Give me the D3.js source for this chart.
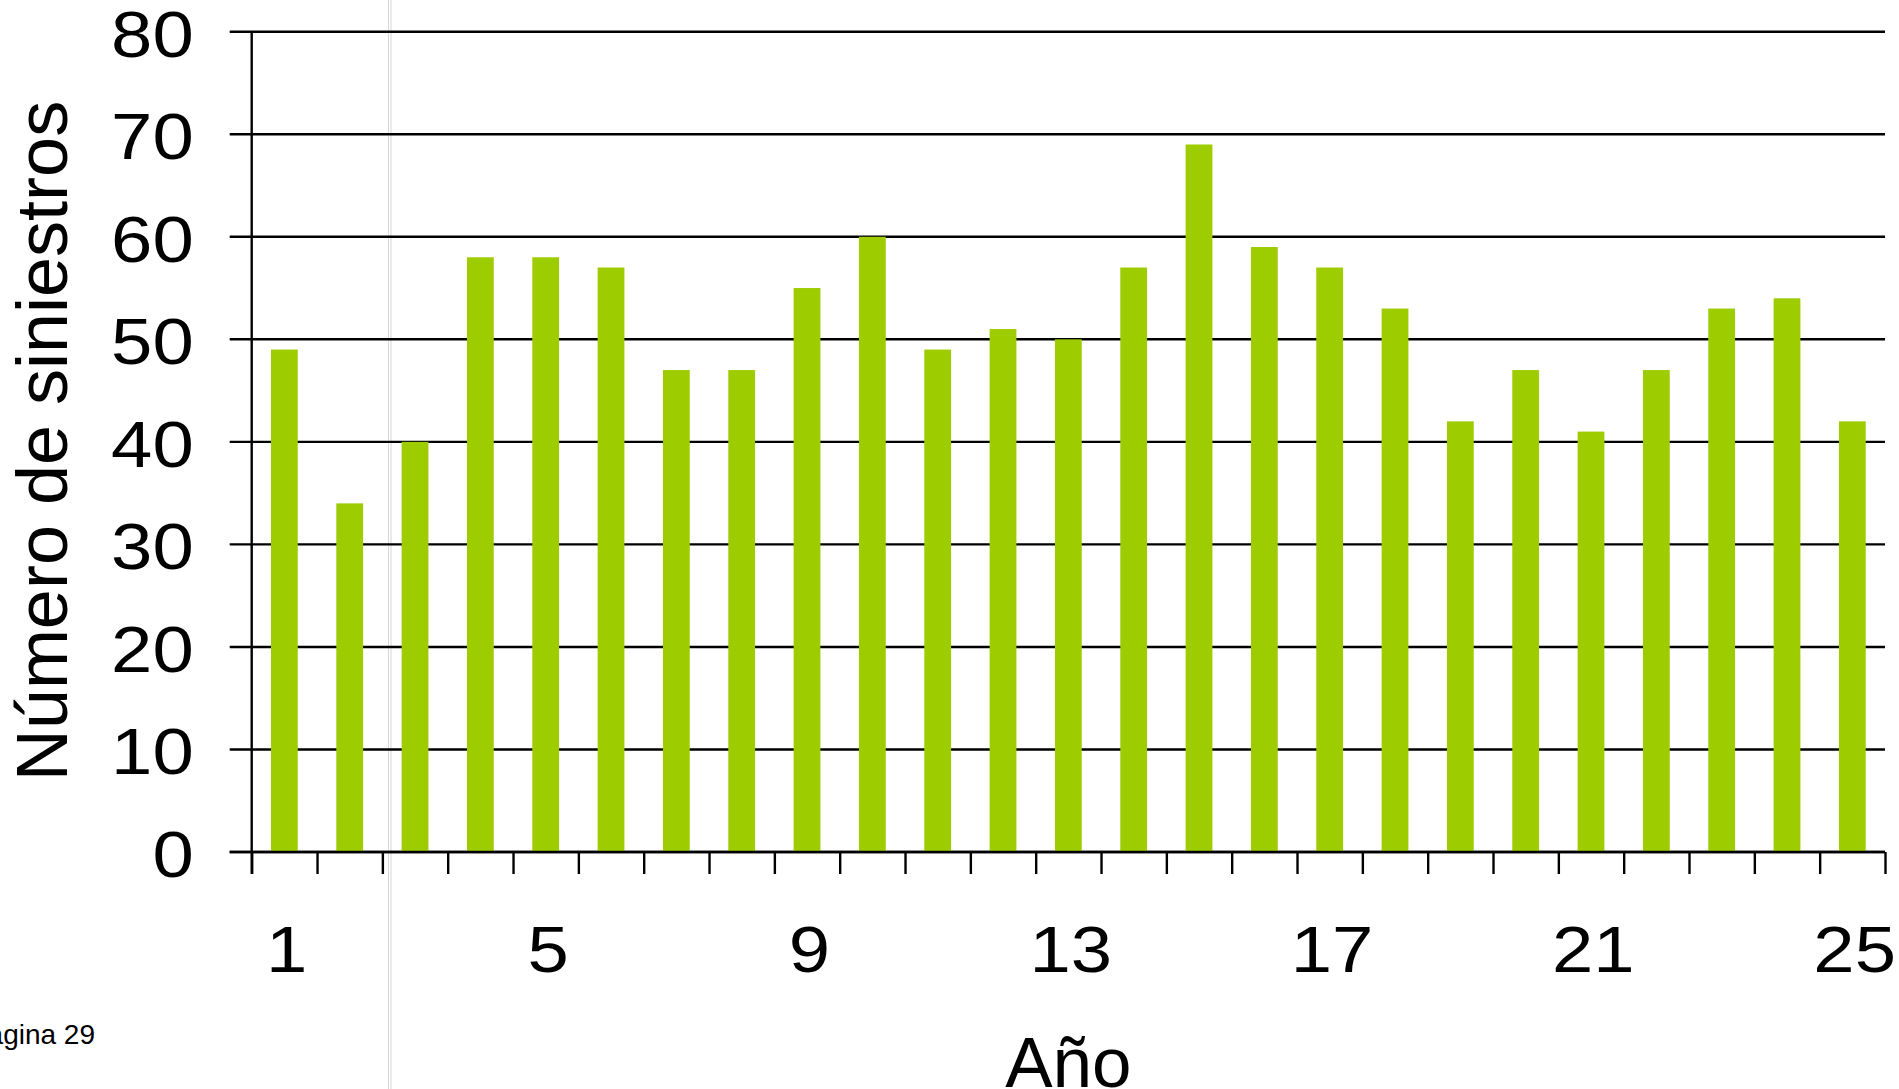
<!DOCTYPE html>
<html lang="es">
<head>
<meta charset="utf-8">
<title>Número de siniestros por año</title>
<script src="https://cdn.jsdelivr.net/npm/d3@7"></script>
<style>
  html, body { margin: 0; padding: 0; background: #fff; }
  svg { display: block; }
  text { font-family: "Liberation Sans", Arial, Helvetica, sans-serif; fill: #000; }
</style>
</head>
<body>
<svg id="chart" width="1899" height="1089"></svg>
<script>
// Siniestros registrados por año (años 1 a 25)
const years = [1, 2, 3, 4, 5, 6, 7, 8, 9, 10, 11, 12, 13, 14, 15, 16, 17, 18, 19, 20, 21, 22, 23, 24, 25];
const counts = [49, 34, 40, 58, 58, 57, 47, 47, 55, 60, 49, 51, 50, 57, 69, 59, 57, 53, 42, 47, 41, 47, 53, 54, 42];
const yTicks = [0, 10, 20, 30, 40, 50, 60, 70, 80];
const xTickLabels = [1, 5, 9, 13, 17, 21, 25];

const W = 1899, H = 1089;
const plot = { left: 251.7, right: 1885, top: 31.7, bottom: 852 };
const tickLen = 22;
const barColor = "#9dcc00";
const digitStretch = 1.16;

const svg = d3.select("#chart");

// page divider lines from the document layout
svg.append("g")
  .selectAll("line")
  .data([388.5, 391])
  .join("line")
  .attr("x1", d => d).attr("x2", d => d)
  .attr("y1", 0).attr("y2", H)
  .attr("stroke", "#d6d6d6").attr("stroke-width", 1);

const y = d3.scaleLinear().domain([0, 80]).range([plot.bottom, plot.top]);

const pi = 0.59;
const x = d3.scaleBand()
  .domain(years)
  .range([plot.left, plot.right])
  .paddingInner(pi)
  .paddingOuter(pi / 2);

// band boundaries for the tick marks
const xEdges = d3.scaleLinear().domain([0, years.length]).range([plot.left, plot.right]);

// horizontal gridlines (extend outward as the y ticks)
svg.append("g")
  .selectAll("line")
  .data(yTicks)
  .join("line")
  .attr("x1", plot.left - tickLen)
  .attr("x2", plot.right)
  .attr("y1", d => y(d))
  .attr("y2", d => y(d))
  .attr("stroke", "#000")
  .attr("stroke-width", 2.4);

// bars
svg.append("g")
  .selectAll("rect")
  .data(years)
  .join("rect")
  .attr("x", (d) => x(d))
  .attr("width", x.bandwidth())
  .attr("y", (d, i) => y(counts[i]))
  .attr("height", (d, i) => y(0) - y(counts[i]))
  .attr("fill", barColor);

// y axis labels
const yAxis = d3.axisLeft(y).tickValues(yTicks).tickSize(0).tickPadding(0);
const gy = svg.append("g")
  .attr("transform", `translate(${plot.left},0)`)
  .call(yAxis);
gy.select(".domain").remove();
gy.selectAll("text")
  .attr("x", 0)
  .attr("dy", null)
  .attr("y", 24.5)
  .attr("font-size", 64)
  .attr("font-family", "Liberation Sans, Arial, sans-serif")
  .attr("text-anchor", "end")
  .attr("transform", `translate(-58,0) scale(${digitStretch},1)`);

// y axis line
svg.append("line")
  .attr("x1", plot.left).attr("x2", plot.left)
  .attr("y1", y(80)).attr("y2", y(0) + tickLen)
  .attr("stroke", "#000").attr("stroke-width", 2.4);

// x axis tick marks at band edges
const gxTicks = svg.append("g")
  .attr("transform", `translate(0,${plot.bottom})`)
  .call(d3.axisBottom(xEdges).tickValues(d3.range(0, years.length + 1)).tickFormat("").tickSize(tickLen).tickSizeOuter(0));
gxTicks.select(".domain").remove();
gxTicks.selectAll("line").attr("stroke", "#000").attr("stroke-width", 2.4);

// x axis line
svg.append("line")
  .attr("x1", plot.left - tickLen).attr("x2", plot.right)
  .attr("y1", plot.bottom).attr("y2", plot.bottom)
  .attr("stroke", "#000").attr("stroke-width", 2.4);

// x axis labels, stretched and centred on their bands
const gx = svg.append("g")
  .attr("transform", `translate(0,${plot.bottom})`)
  .call(d3.axisBottom(x).tickValues(xTickLabels).tickSize(0).tickPadding(0));
gx.select(".domain").remove();
gx.selectAll(".tick text")
  .attr("x", 2)
  .attr("y", 120)
  .attr("dy", null)
  .attr("font-size", 64)
  .attr("font-family", "Liberation Sans, Arial, sans-serif")
  .attr("text-anchor", "middle")
  .attr("transform", `scale(${digitStretch},1)`);

// axis titles
svg.append("text")
  .attr("transform", `translate(67,441) rotate(-90)`)
  .attr("text-anchor", "middle")
  .attr("font-size", 72)
  .text("Número de siniestros");

svg.append("text")
  .attr("x", (plot.left + plot.right) / 2)
  .attr("y", 1087)
  .attr("text-anchor", "middle")
  .attr("font-size", 71)
  .text("Año");

// page footer
svg.append("text")
  .attr("x", 95)
  .attr("y", 1044)
  .attr("text-anchor", "end")
  .attr("font-size", 28)
  .text("Página 29");
</script>
</body>
</html>
